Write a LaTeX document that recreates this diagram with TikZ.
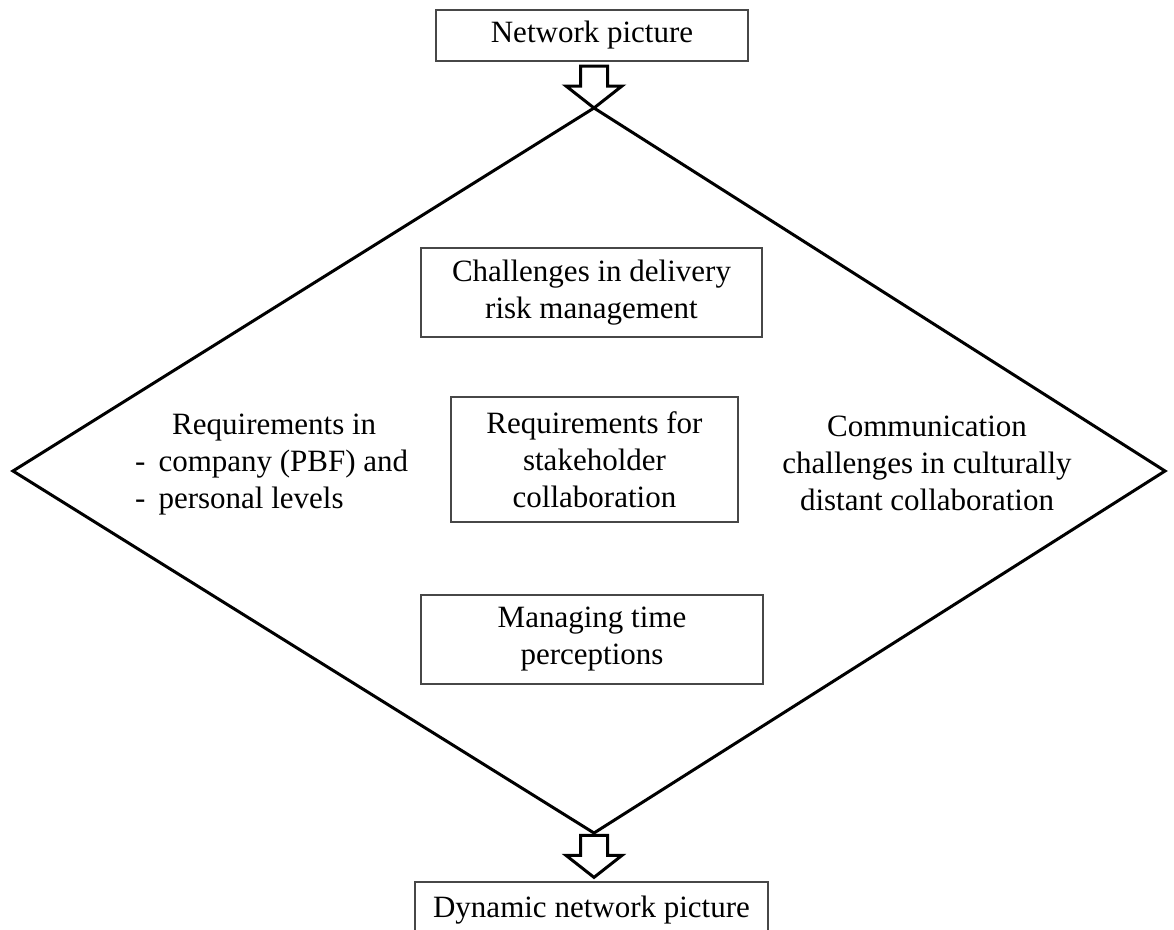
\documentclass[tikz,border=0pt]{standalone}
\usepackage{fontspec}
\setmainfont{Liberation Serif}
\usetikzlibrary{calc}

\tikzset{
  box/.style={draw=black!72, line width=1.3pt, inner sep=0pt, align=center},
  plain/.style={inner sep=0pt},
  frame/.style={draw=black, line width=3pt, line join=miter},
  hollow/.style={draw=black, line width=3pt, line join=miter, fill=white}
}

% hollow block arrow whose tip sits on the given point
\newcommand\hollowarrow[1]{%
  \draw[hollow] (#1) -- ++(-28,-22) -- ++(14.5,0) -- ++(0,-20) -- ++(27,0)
    -- ++(0,20) -- ++(14.5,0) -- cycle;}

\begin{document}
\begin{tikzpicture}[x=1pt, y=-1pt, font=\fontsize{31}{37}\selectfont]
\clip (0,0) rectangle (1174,929);
\fill[white] (0,0) rectangle (1174,929);

% corners of the large diamond
\coordinate (dtop) at (594,108);
\coordinate (dright) at (1165,471);
\coordinate (dbot) at (594,833);
\coordinate (dleft) at (13,471);
\draw[frame] (dtop) -- (dright) -- (dbot) -- (dleft) -- cycle;

% start and end boxes
\node[box, minimum width=312pt, minimum height=51pt] (net) at (592,35.5) {Network picture};
\node[box, minimum width=353pt, minimum height=56pt] (dyn) at (591.5,910) {Dynamic network picture};

% boxes inside the diamond
\node[box, minimum width=341pt, minimum height=89pt] (risk) at (591.5,292.5)
  {Challenges in delivery\\risk management};
\node[box, minimum width=287pt, minimum height=125pt] (stake) at (594.5,459.5)
  {Requirements for\\stakeholder\\collaboration};
\node[box, minimum width=342pt, minimum height=89pt] (time) at (592,639.5)
  {Managing time\\perceptions};

% free texts on both sides
\node[plain, align=left, anchor=west] (levels) at (135,464.5)
  {\hspace*{37pt}Requirements in\\-\hspace{13pt}company (PBF) and\\-\hspace{13pt}personal levels};
\node[plain, align=center] (comm) at (927,463)
  {Communication\\challenges in culturally\\distant collaboration};

% block arrows into and out of the diamond
\hollowarrow{dtop}
\coordinate (dyntip) at ($(dyn.north)+(2.5,-4)$);
\hollowarrow{dyntip}
\end{tikzpicture}
\end{document}
